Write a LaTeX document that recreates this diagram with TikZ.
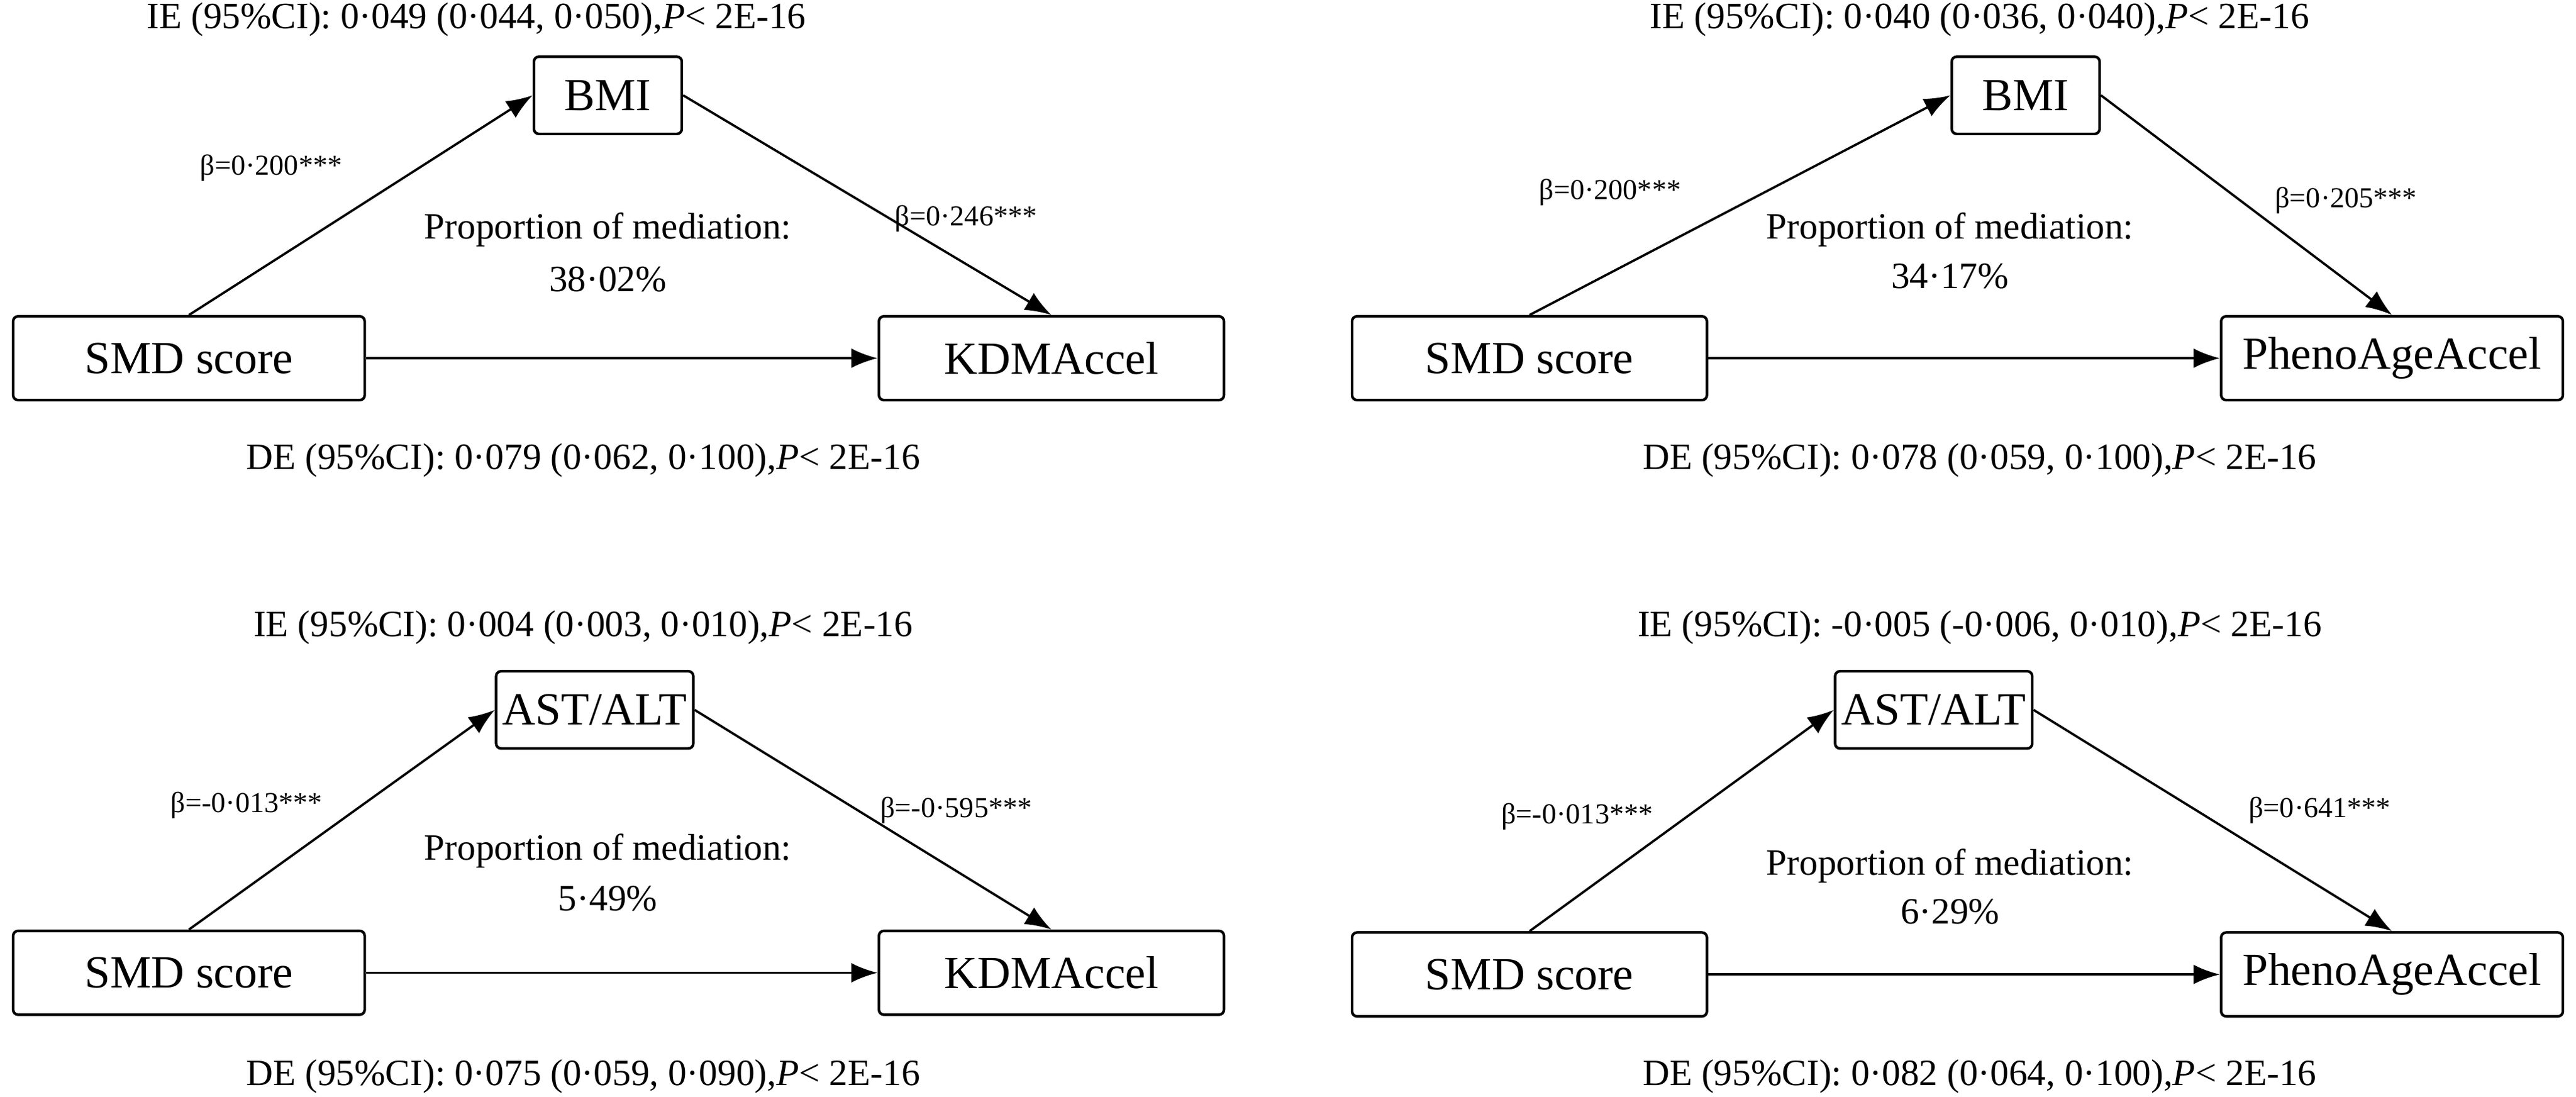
\documentclass[tikz,border=0pt]{standalone}
\usepackage{fontspec}
\setmainfont{Liberation Serif}
\usetikzlibrary{arrows.meta}
\begin{document}
\begin{tikzpicture}[x=0.5pt,y=-0.5pt,
 box/.style={draw,line width=0.8pt,rounded corners=1.5pt,font=\fontsize{14}{16}\selectfont,inner sep=0pt,minimum height=25.5pt},
 big/.style={box,minimum width=107pt},
 med/.style={box,minimum height=23.5pt},
 arr/.style={line width=0.7pt,-{Latex[length=8pt,width=6pt]}},
 txt/.style={font=\fontsize{11.3}{13}\selectfont},
 bt/.style={font=\fontsize{8.8}{10}\selectfont}]
\useasboundingbox (0,0) rectangle (1568,667.3);
% top-left
\node[txt] (ie1) at (290,12) {IE (95\%CI): 0·049 (0·044, 0·050),\textit{P}< 2E-16};
\node[med,minimum width=45pt] (m1) at (370,58) {BMI};
\node[big] (s1) at (115,218) {SMD score};
\node[big,minimum width=105pt] (o1) at (640,218) {KDMAccel};
\draw[arr] (s1.north) -- (m1.west);
\draw[arr] (m1.east) -- (o1.north);
\draw[arr] (s1.east) -- (o1.west);
\node[bt] (b11) at (165,102) {β=0·200***};
\node[bt] (b12) at (588,133) {β=0·246***};
\node[txt] (p1) at (370,140) {Proportion of mediation:};
\node[txt] (q1) at (370,170) {38·02\%};
\node[txt] (de1) at (355,280) {DE (95\%CI): 0·079 (0·062, 0·100),\textit{P}< 2E-16};
% top-right
\node[txt] (ie2) at (1205,12) {IE (95\%CI): 0·040 (0·036, 0·040),\textit{P}< 2E-16};
\node[med,minimum width=45pt] (m2) at (1233,58) {BMI};
\node[big,minimum width=108pt] (s2) at (931,218) {SMD score};
\node[big,minimum width=104pt] (o2) at (1456,218) {PhenoAgeAccel};
\draw[arr] (s2.north) -- (m2.west);
\draw[arr] (m2.east) -- (o2.north);
\draw[arr] (s2.east) -- (o2.west);
\node[bt] (b21) at (980,117) {β=0·200***};
\node[bt] (b22) at (1428,122) {β=0·205***};
\node[txt] (p2) at (1187,140) {Proportion of mediation:};
\node[txt] (q2) at (1187,168) {34·17\%};
\node[txt] (de2) at (1205,280) {DE (95\%CI): 0·078 (0·059, 0·100),\textit{P}< 2E-16};
% bottom-left
\node[txt] (ie3) at (355,382) {IE (95\%CI): 0·004 (0·003, 0·010),\textit{P}< 2E-16};
\node[med,minimum width=60pt] (m3) at (362,432) {AST/ALT};
\node[big] (s3) at (115,592) {SMD score};
\node[big,minimum width=105pt] (o3) at (640,592) {KDMAccel};
\draw[arr] (s3.north) -- (m3.west);
\draw[arr] (m3.east) -- (o3.north);
\draw[arr] (s3.east) -- (o3.west);
\node[bt] (b31) at (150,490) {β=-0·013***};
\node[bt] (b32) at (582,493) {β=-0·595***};
\node[txt] (p3) at (370,518) {Proportion of mediation:};
\node[txt] (q3) at (370,547) {5·49\%};
\node[txt] (de3) at (355,655) {DE (95\%CI): 0·075 (0·059, 0·090),\textit{P}< 2E-16};
% bottom-right
\node[txt] (ie4) at (1205,382) {IE (95\%CI): -0·005 (-0·006, 0·010),\textit{P}< 2E-16};
\node[med,minimum width=60pt] (m4) at (1177,432) {AST/ALT};
\node[big,minimum width=108pt] (s4) at (931,593) {SMD score};
\node[big,minimum width=104pt] (o4) at (1456,593) {PhenoAgeAccel};
\draw[arr] (s4.north) -- (m4.west);
\draw[arr] (m4.east) -- (o4.north);
\draw[arr] (s4.east) -- (o4.west);
\node[bt] (b41) at (960,497) {β=-0·013***};
\node[bt] (b42) at (1412,493) {β=0·641***};
\node[txt] (p4) at (1187,527) {Proportion of mediation:};
\node[txt] (q4) at (1187,555) {6·29\%};
\node[txt] (de4) at (1205,655) {DE (95\%CI): 0·082 (0·064, 0·100),\textit{P}< 2E-16};
\end{tikzpicture}
\end{document}
